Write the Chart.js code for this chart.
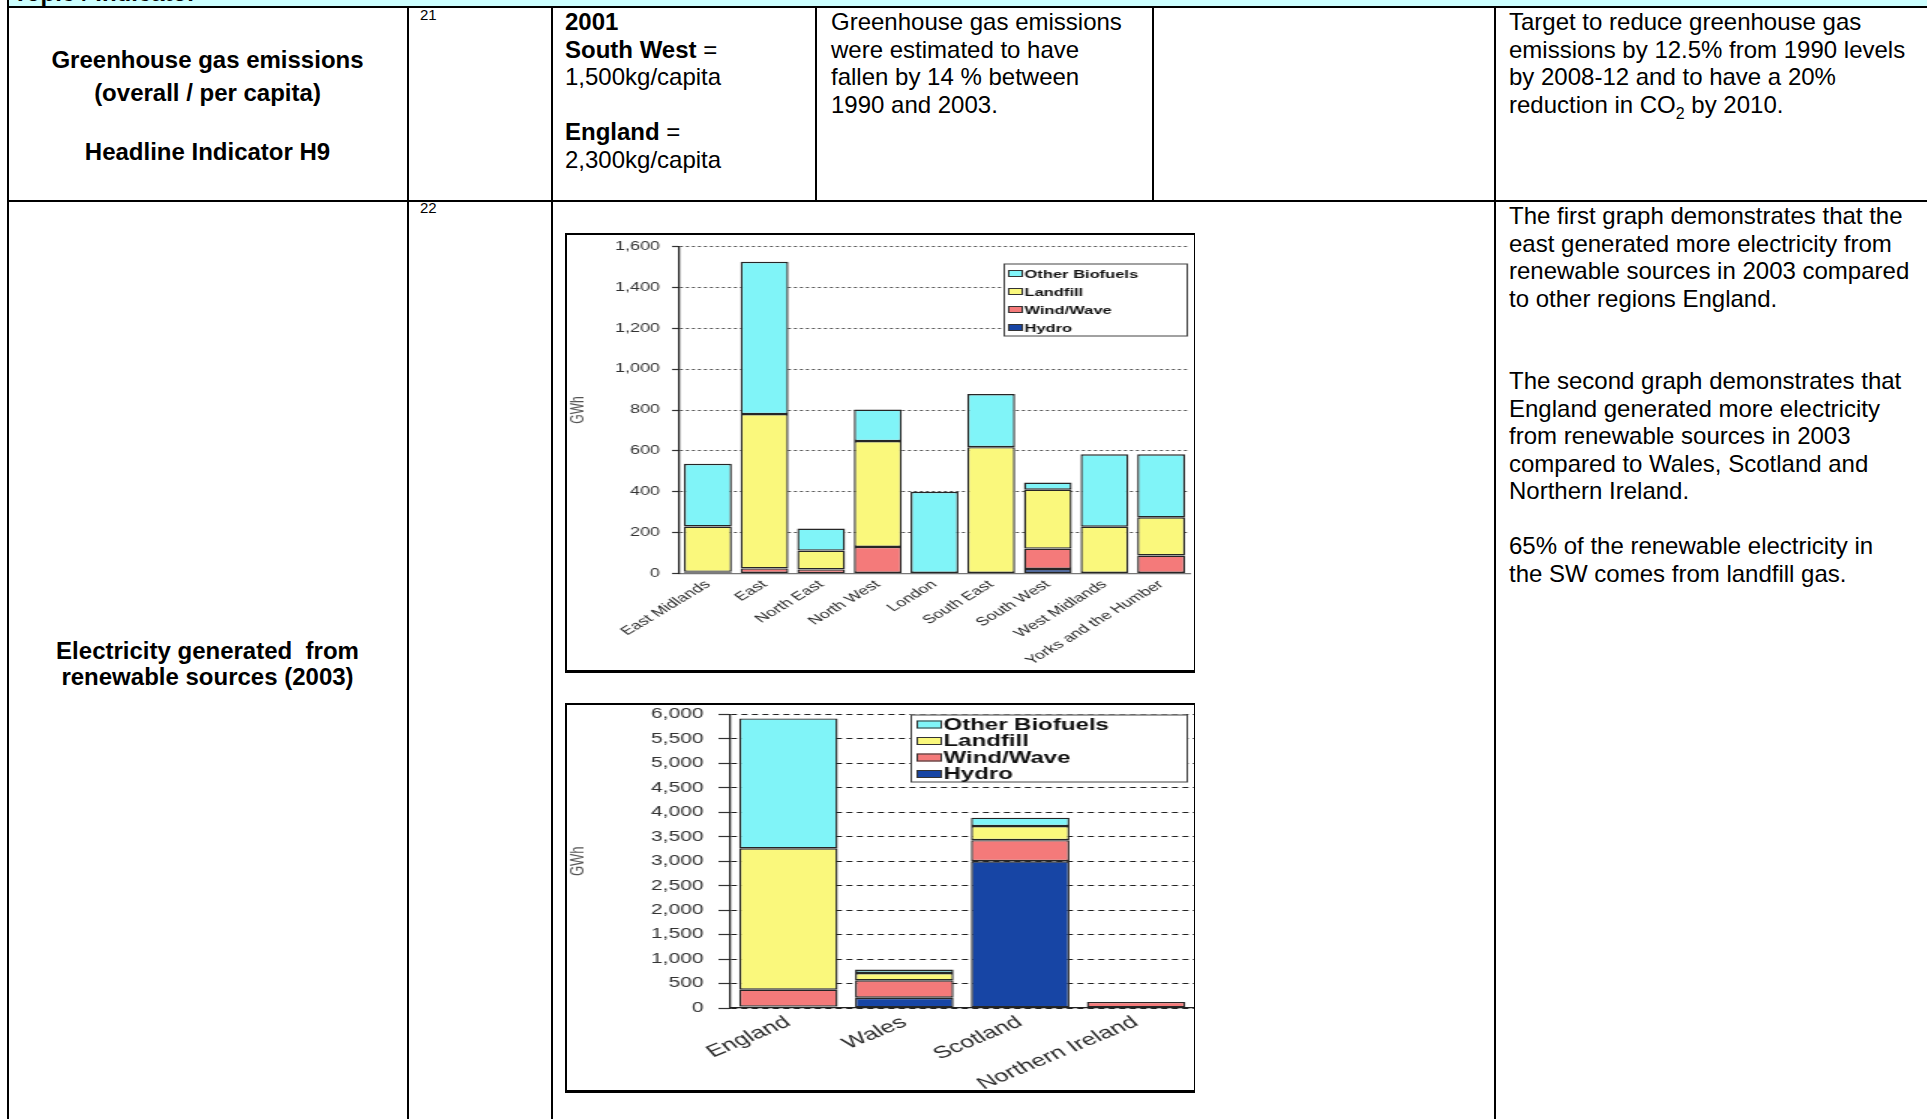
<!DOCTYPE html>
<html>
<head>
<meta charset="utf-8">
<title>Electricity generated from renewable sources (2003)</title>
<script src="https://cdn.jsdelivr.net/npm/chart.js@4.4.1/dist/chart.umd.min.js"></script>
<style>
  body { margin: 0; width: 1927px; height: 1119px; overflow: hidden; position: relative;
         background: #fff; color: #000; font-family: "Liberation Sans", Arial, sans-serif; }
  .band { position: absolute; left: 7px; top: 0; width: 1920px; height: 6px; background: #ccffff; overflow: hidden; }
  .band span { position: absolute; left: 6px; top: -21px; font: bold 24px/27.5px "Liberation Sans", Arial, sans-serif; }
  .ln { position: absolute; background: #000; }
  .t { position: absolute; font-size: 24px; line-height: 27.5px; white-space: nowrap; }
  .b { font-weight: bold; }
  .c { text-align: center; width: 399px; left: 8px; }
  .note { position: absolute; font-size: 15px; line-height: 17px; }
  .frame { position: absolute; box-sizing: border-box; background: #fff; overflow: hidden;
           border: 2px solid #000; border-right-width: 1px; border-bottom-width: 3px; }
  .frame .inner { transform-origin: 0 0; transform: scaleX(1.5); }
  .frame canvas { display: block; }
  sub { font-size: 16px; line-height: 0; }
</style>
</head>
<body>

<div class="band"><span>Topic / Indicator</span></div>

<!-- table rules -->
<div class="ln" style="left:7px;top:6px;width:1920px;height:2px"></div>
<div class="ln" style="left:7px;top:200px;width:1920px;height:2px"></div>
<div class="ln" style="left:7px;top:0;width:2px;height:1119px"></div>
<div class="ln" style="left:407px;top:6px;width:2px;height:1113px"></div>
<div class="ln" style="left:551px;top:6px;width:2px;height:1113px"></div>
<div class="ln" style="left:815px;top:6px;width:2px;height:196px"></div>
<div class="ln" style="left:1152px;top:6px;width:2px;height:196px"></div>
<div class="ln" style="left:1494px;top:6px;width:2px;height:1113px"></div>

<!-- row 1 -->
<div class="t b c" style="top:46px">Greenhouse gas emissions</div>
<div class="t b c" style="top:79px">(overall / per capita)</div>
<div class="t b c" style="top:138px">Headline Indicator H9</div>
<div class="note" style="left:420px;top:6px">21</div>

<div class="t" style="left:565px;top:8px">
  <b>2001</b><br><b>South West</b> =<br>1,500kg/capita<br><br><b>England</b> =<br>2,300kg/capita
</div>
<div class="t" style="left:831px;top:8px">
  Greenhouse gas emissions<br>were estimated to have<br>fallen by 14 % between<br>1990 and 2003.
</div>
<div class="t" style="left:1509px;top:8px">
  Target to reduce greenhouse gas<br>emissions by 12.5% from 1990 levels<br>by 2008-12 and to have a 20%<br>reduction in CO<sub>2</sub> by 2010.
</div>

<!-- row 2 -->
<div class="note" style="left:420px;top:199px">22</div>
<div class="t b c" style="top:637px">Electricity generated&nbsp; from</div>
<div class="t b c" style="top:663px">renewable sources (2003)</div>
<div class="t" style="left:1509px;top:202px">
  The first graph demonstrates that the<br>east generated more electricity from<br>renewable sources in 2003 compared<br>to other regions England.<br><br><br>
  The second graph demonstrates that<br>England generated more electricity<br>from renewable sources in 2003<br>compared to Wales, Scotland and<br>Northern Ireland.<br><br>
  65% of the renewable electricity in<br>the SW comes from landfill gas.
</div>

<div class="frame" style="left:565px;top:233px;width:630px;height:440px">
  <div class="inner"><canvas id="regionChart" width="418" height="434"></canvas></div>
</div>
<div class="frame" style="left:565px;top:703px;width:630px;height:390px">
  <div class="inner"><canvas id="nationChart" width="418" height="385"></canvas></div>
</div>

<script>
// English regions, renewable generation 2003 (GWh)
const regionLabels = ['East Midlands', 'East', 'North East', 'North West', 'London',
  'South East', 'South West', 'West Midlands', 'Yorks and the Humber'];
const regionHydro    = [4, 0, 2, 0, 0, 0, 22, 0, 0];
const regionWind     = [4, 25, 18, 130, 0, 3, 100, 0, 88];
const regionLandfill = [222, 755, 92, 518, 0, 615, 288, 229, 187];
const regionOther    = [307, 745, 108, 154, 400, 260, 35, 354, 308];
const regionTicks    = [0, 200, 400, 600, 800, 1000, 1200, 1400, 1600];

// UK countries, renewable generation 2003 (GWh)
const nationLabels   = ['England', 'Wales', 'Scotland', 'Northern Ireland'];
const nationHydro    = [30, 210, 3000, 0];
const nationWind     = [345, 355, 430, 125];
const nationLandfill = [2890, 150, 290, 0];
const nationOther    = [2655, 70, 170, 0];
const nationTicks    = [0, 500, 1000, 1500, 2000, 2500, 3000, 3500, 4000, 4500, 5000, 5500, 6000];

// stacking order, bottom first
const seriesNames   = ['Hydro', 'Wind/Wave', 'Landfill', 'Other Biofuels'];
const seriesColours = ['#1745a5', '#f47a7a', '#faf87c', '#80f4f8'];

// legend box drawn inside the plot, top right
const boxLegend = {
  id: 'boxLegend',
  afterDraw(chart, args, o) {
    const ctx = chart.ctx;
    const x = chart.chartArea.right - o.right;
    const y = chart.chartArea.top + o.top;
    ctx.save();
    ctx.fillStyle = '#fff';
    ctx.fillRect(x, y, o.width, o.height);
    ctx.strokeStyle = '#444';
    ctx.lineWidth = 1;
    ctx.strokeRect(x + 0.5, y + 0.5, o.width, o.height);
    ctx.font = 'bold ' + o.size + 'px "Liberation Sans", Arial, sans-serif';
    ctx.textBaseline = 'middle';
    const items = chart.data.datasets.slice().reverse();
    items.forEach((ds, i) => {
      const cy = y + o.first + i * o.row;
      ctx.fillStyle = ds.backgroundColor;
      ctx.fillRect(x + o.swatchX, cy - o.swatchH / 2, o.swatchW, o.swatchH);
      ctx.strokeStyle = '#333';
      ctx.strokeRect(x + o.swatchX + 0.5, cy - o.swatchH / 2 + 0.5, o.swatchW - 1, o.swatchH - 1);
      ctx.fillStyle = '#111';
      ctx.fillText(ds.label, x + o.textX, cy + 1);
    });
    ctx.restore();
  }
};

function stackedChart(id, labels, series, ticks, look) {
  const datasets = series.map((data, i) => ({
    label: seriesNames[i],
    data: data,
    backgroundColor: seriesColours[i],
    borderColor: '#262626',
    borderWidth: 1.4,
    borderSkipped: false,
    barPercentage: look.bar,
    categoryPercentage: 1
  }));

  return new Chart(document.getElementById(id), {
    type: 'bar',
    data: { labels: labels, datasets: datasets },
    plugins: [boxLegend],
    options: {
      responsive: false,
      animation: false,
      layout: { padding: { top: look.padTop, right: look.padRight, left: 0, bottom: 0 } },
      plugins: {
        legend: { display: false },
        tooltip: { enabled: false },
        boxLegend: look.legend
      },
      scales: {
        x: {
          stacked: true,
          grid: { display: false, drawTicks: false },
          border: { display: true, color: look.baseColor, width: 1.2 },
          ticks: {
            autoSkip: false,
            minRotation: look.rotation,
            maxRotation: look.rotation,
            padding: 4,
            color: '#2a2a2a',
            font: { family: 'Liberation Sans', size: look.xSize }
          },
          afterFit: s => {
            s.height = look.xHeight;
            s.paddingLeft = 0;
            s.paddingRight = 0;
          }
        },
        y: {
          stacked: true,
          min: ticks[0],
          max: ticks[ticks.length - 1],
          afterBuildTicks: s => { s.ticks = ticks.map(v => ({ value: v })); },
          grid: {
            color: look.gridColor,
            lineWidth: 1,
            tickLength: look.tickLength,
            tickColor: '#333',
            tickWidth: 1.2
          },
          border: { display: true, color: '#222', width: 1.3, dash: look.dash },
          ticks: {
            padding: look.tickPad,
            color: '#333',
            font: { family: 'Liberation Sans', size: look.ySize },
            callback: v => v.toLocaleString('en-GB')
          },
          title: {
            display: true,
            text: 'GWh',
            color: '#555',
            padding: 0,
            font: { family: 'Liberation Sans', size: look.titleSize }
          },
          afterFit: s => {
            s.width = look.yWidth;
            s.paddingTop = 0;
            s.paddingBottom = 0;
          }
        }
      }
    }
  });
}

stackedChart('regionChart', regionLabels,
  [regionHydro, regionWind, regionLandfill, regionOther], regionTicks, {
    bar: 0.845, padTop: 11.5, padRight: 3, yWidth: 75, xHeight: 95.5,
    rotation: 42, xSize: 12, ySize: 12, titleSize: 12,
    gridColor: '#555', dash: [2, 2], baseColor: '#777',
    tickLength: 5, tickPad: 8,
    legend: { right: 124, top: 17, width: 122, height: 72, first: 10, row: 18,
              swatchX: 3, swatchW: 10, swatchH: 7, textX: 14, size: 11 }
  });

stackedChart('nationChart', nationLabels,
  [nationHydro, nationWind, nationLandfill, nationOther], nationTicks, {
    bar: 0.85, padTop: 9.5, padRight: 0, yWidth: 109, xHeight: 82,
    rotation: 32, xSize: 17, ySize: 14, titleSize: 13,
    gridColor: '#222', dash: [4, 3], baseColor: '#222',
    tickLength: 8, tickPad: 10,
    legend: { right: 189, top: 0, width: 184, height: 67, first: 10, row: 16.5,
              swatchX: 4, swatchW: 17, swatchH: 8, textX: 22, size: 16 }
  });
</script>
</body>
</html>
